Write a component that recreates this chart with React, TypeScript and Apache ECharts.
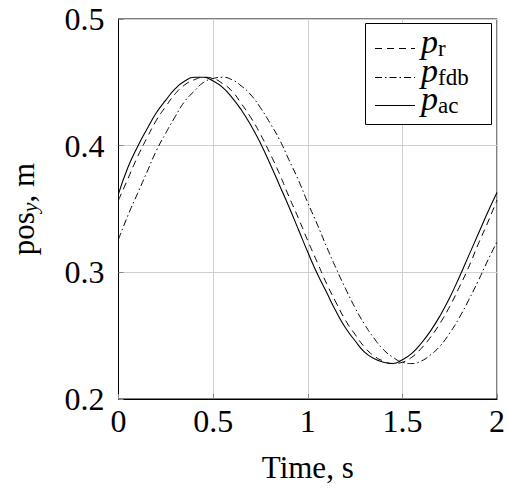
import React, { useEffect, useRef } from "react";
import * as echarts from "echarts";

const times: number[] = Array.from({ length: 41 }, (_, i) => +(i * 0.05).toFixed(2));

const pRef: number[] = [
  0.357, 0.374, 0.391, 0.406, 0.420, 0.431, 0.441, 0.448, 0.452, 0.454,
  0.453, 0.449, 0.443, 0.433, 0.422, 0.409, 0.394, 0.378, 0.360, 0.343,
  0.325, 0.308, 0.291, 0.276, 0.262, 0.251, 0.241, 0.234, 0.230, 0.228,
  0.229, 0.233, 0.240, 0.249, 0.260, 0.273, 0.288, 0.304, 0.322, 0.339,
  0.357,
];

const pFdb: number[] = [
  0.326, 0.345, 0.362, 0.379, 0.396, 0.410, 0.423, 0.435, 0.443, 0.450,
  0.453, 0.454, 0.452, 0.447, 0.440, 0.430, 0.418, 0.405, 0.389, 0.373,
  0.355, 0.338, 0.320, 0.303, 0.287, 0.272, 0.259, 0.248, 0.239, 0.233,
  0.229, 0.228, 0.230, 0.235, 0.242, 0.252, 0.264, 0.278, 0.293, 0.309,
  0.324,
];

const pAc: number[] = [
  0.362, 0.383, 0.399, 0.413, 0.426, 0.436, 0.445, 0.451, 0.454, 0.454,
  0.451, 0.446, 0.438, 0.428, 0.416, 0.402, 0.386, 0.369, 0.352, 0.334,
  0.316, 0.299, 0.284, 0.269, 0.256, 0.246, 0.237, 0.232, 0.229, 0.228,
  0.231, 0.236, 0.244, 0.254, 0.266, 0.280, 0.296, 0.313, 0.330, 0.347,
  0.363,
];

const legendMain: string[] = ["p", "p", "p"];
const legendSubs: string[] = ["r", "fdb", "ac"];

const xTicks = { min: 0, max: 2, interval: 0.5 };
const yTicks = { min: 0.2, max: 0.5, interval: 0.1 };

const FONT = "Liberation Serif";

const DASH_R = [7, 5];
const DASH_FDB = [7, 3, 1.5, 3];

export default function App() {
  const ref = useRef<HTMLDivElement>(null);
  useEffect(() => {
    if (!ref.current) return;
    const chart = echarts.init(ref.current, undefined, { renderer: "svg" });
    const mk = (vals: number[]) => times.map((t, i) => [t, vals[i]]);

    const rowY = [48, 77, 105];
    const dashes: (number[] | null)[] = [DASH_R, DASH_FDB, null];
    const legendGraphics: any[] = [
      {
        type: "rect",
        z: 10,
        shape: { x: 365.5, y: 23.5, width: 126, height: 101 },
        style: { fill: "#fff", stroke: "#000", lineWidth: 1 },
      },
    ];
    rowY.forEach((y, i) => {
      legendGraphics.push({
        type: "line",
        z: 11,
        shape: { x1: 375, y1: y + 0.5, x2: 415, y2: y + 0.5 },
        style: { stroke: "#000", lineWidth: 1, lineDash: dashes[i] || undefined },
      });
      legendGraphics.push({
        type: "text",
        z: 11,
        x: 421,
        y: y - 7,
        style: {
          text: legendMain[i],
          font: `italic 34px "${FONT}"`,
          lineHeight: 26,
          fill: "#000",
          verticalAlign: "middle",
          align: "left",
        },
      });
      legendGraphics.push({
        type: "text",
        z: 11,
        x: 438,
        y: y,
        style: {
          text: legendSubs[i],
          font: `23px "${FONT}"`,
          lineHeight: 20,
          fill: "#000",
          verticalAlign: "middle",
          align: "left",
        },
      });
    });

    chart.setOption({
      animation: false,
      backgroundColor: "#fff",
      grid: {
        left: 116,
        right: 8,
        top: 19,
        bottom: 85,
        show: true,
        borderColor: "#000",
        borderWidth: 1,
        backgroundColor: "transparent",
      },
      graphic: legendGraphics,
      xAxis: {
        type: "value",
        ...xTicks,
        name: "Time, s",
        nameLocation: "middle",
        nameGap: 53,
        nameTextStyle: { fontFamily: FONT, fontSize: 31, color: "#000" },
        axisLine: { show: true, lineStyle: { color: "#000", width: 1 } },
        axisTick: { show: true, inside: true, length: 5, lineStyle: { color: "#888" } },
        axisLabel: {
          fontFamily: FONT,
          fontSize: 32,
          color: "#000",
          margin: 6,
          formatter: (v: number) => String(v),
        },
        splitLine: { show: true, lineStyle: { color: "#cfcfcf", width: 1 } },
      },
      yAxis: {
        type: "value",
        ...yTicks,
        name: "{a|pos}{b|y}{a|, m}",
        nameLocation: "middle",
        nameGap: 78,
        nameTextStyle: {
          rich: {
            a: { fontFamily: FONT, fontSize: 31, color: "#000" },
            b: { fontFamily: FONT, fontSize: 22, fontStyle: "italic", color: "#000", padding: [12, 0, 0, 0] },
          },
        },
        axisLine: { show: true, lineStyle: { color: "#000", width: 1 } },
        axisTick: { show: true, inside: true, length: 5, lineStyle: { color: "#888" } },
        axisLabel: {
          fontFamily: FONT,
          fontSize: 32,
          color: "#000",
          margin: 14,
          formatter: (v: number) => v.toFixed(1),
        },
        splitLine: { show: true, lineStyle: { color: "#cfcfcf", width: 1 } },
      },
      series: [
        {
          name: "pr",
          type: "line",
          data: mk(pRef),
          symbol: "none",
          smooth: true,
          lineStyle: { color: "#000", width: 1, type: DASH_R },
          itemStyle: { color: "#000" },
          z: 3,
        },
        {
          name: "pfdb",
          type: "line",
          data: mk(pFdb),
          symbol: "none",
          smooth: true,
          lineStyle: { color: "#000", width: 1, type: DASH_FDB },
          itemStyle: { color: "#000" },
          z: 3,
        },
        {
          name: "pac",
          type: "line",
          data: mk(pAc),
          symbol: "none",
          smooth: true,
          lineStyle: { color: "#000", width: 1.1, type: "solid" },
          itemStyle: { color: "#000" },
          z: 3,
        },
      ],
    });
    return () => chart.dispose();
  }, []);
  return <div ref={ref} style={{ width: 508, height: 488, position: "absolute", left: 0, top: 0 }} />;
}
